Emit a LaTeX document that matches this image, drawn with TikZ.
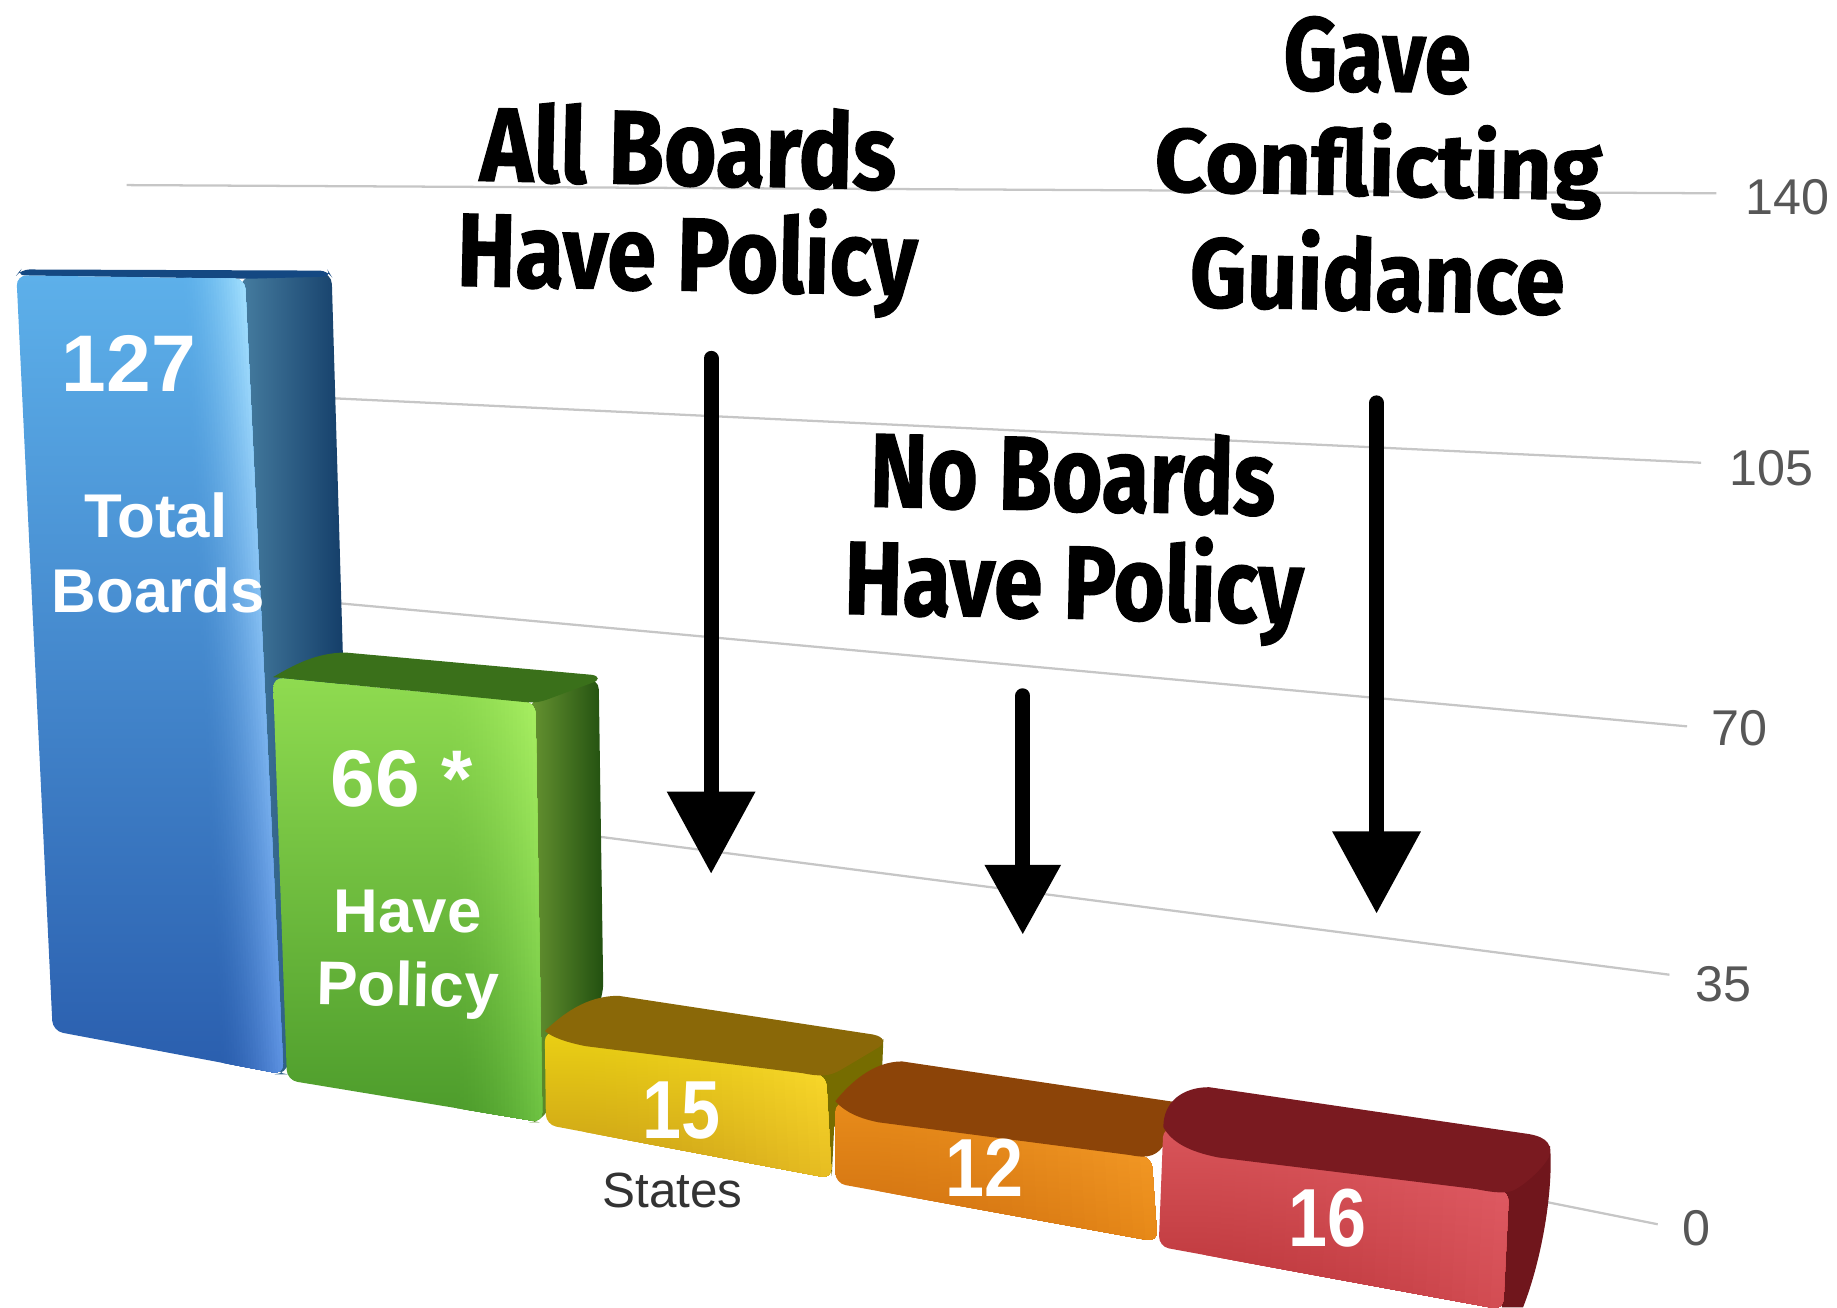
\documentclass[tikz,border=0pt]{standalone}
\usepackage{fontspec}
\usepackage{graphicx}
\setmainfont{Liberation Sans}
\newfontfamily\handf[BoldFeatures={FakeBold=1.2}]{Fira Sans}
\usetikzlibrary{calc,arrows.meta}
\newlength\ulen \setlength\ulen{0.01cm}
\definecolor{gridc}{HTML}{C6C6C6}
\definecolor{bsl}{RGB}{70,125,160}\definecolor{bsr}{RGB}{20,62,105}\definecolor{btop}{RGB}{20,72,130}
\definecolor{gtop}{RGB}{58,112,26}\definecolor{gsl}{RGB}{105,150,50}\definecolor{gsr}{RGB}{34,80,16}
\definecolor{yside}{RGB}{118,108,0}\definecolor{ytop}{RGB}{138,104,8}
\definecolor{otop}{RGB}{140,68,8}
\definecolor{rside}{RGB}{112,22,28}\definecolor{rtop}{RGB}{122,26,32}
\tikzset{
  gridline/.style={draw=gridc,line width=0.55pt},
  axislabel/.style={text=black!66,font=\fontsize{12.2}{14}\selectfont,inner sep=0},
  barnum/.style={text=white,font=\bfseries\fontsize{19.5}{22}\selectfont,inner sep=0},
  barlab/.style={text=white,font=\bfseries\fontsize{15}{18}\selectfont,inner sep=0},
  smallnum/.style={text=white,font=\bfseries\fontsize{20}{22}\selectfont,inner sep=0,xscale=.85,transform shape},
  handline/.style={anchor=base,inner sep=0,rotate=-1.2,text=black,font=\handf\bfseries\fontsize{28}{30}\selectfont},
  handarrow/.style={draw=black,line width=3.7pt,line cap=round,-{Triangle[length=20pt,width=20.5pt]}},
  handarrowsm/.style={draw=black,line width=3.7pt,line cap=round,-{Triangle[length=17pt,width=17.5pt]}},
}
% front face with a highlight growing smoothly towards its right edge
\newcommand\frontface[9]{%
  \begin{scope}
  \clip[rounded corners=2.5pt] (#1) -- (#2) -- (#3) -- (#4) -- cycle;
  \shade[top color=#5,bottom color=#6] (#1) -- (#2) -- (#3) -- (#4) -- cycle;
  \foreach \i in {1,...,24}{%
    \pgfmathsetmacro\t{#9+(1-#9)*\i/24}%
    \pgfmathsetmacro\m{100*pow(\i/24,1.6)}%
    \shade[top color=#7!\m!#5,bottom color=#8!\m!#6]
      (#1) -- (#1) (#2) -- (#2) (#3) -- (#3) (#4) -- (#4)
      ($(#1)!\t!(#2)$) -- (#2) -- (#3) -- ($(#4)!\t!(#3)$) -- cycle;
  }%
  \end{scope}%
}
\newcommand\handtext[6]{\node[handline] (#1) at (#2,#3) {\resizebox{#4\ulen}{#5\ulen}{#6}};}
\begin{document}
\begin{tikzpicture}[x=0.01cm,y=-0.01cm]
\useasboundingbox (0,0) rectangle (1568,1116);
% grid lines
\coordinate (g1a) at (108,158); \coordinate (g1b) at (1465,165);
\coordinate (g2a) at (285,340); \coordinate (g2b) at (1452,395);
\coordinate (g3a) at (290,515); \coordinate (g3b) at (1440,620);
\coordinate (g4a) at (510,714); \coordinate (g4b) at (1425,832);
\coordinate (g5a) at (1320,1026); \coordinate (g5b) at (1415,1045);
\foreach \n in {1,...,5}{\draw[gridline] (g\n a) -- (g\n b);}
% axis labels
\node[axislabel] (l140) at (1526,168) {140};
\node[axislabel] (l105) at (1512,400) {105};
\node[axislabel] (l70) at (1485,622) {70};
\node[axislabel] (l35) at (1471,840) {35};
\node[axislabel] (l0) at (1448,1048) {0};
% blue bar
\shade[left color=bsl,right color=bsr,rounded corners=3pt]
  (205,236) -- (283,232) -- (293,570) -- (245,917) -- (235,917) -- cycle;
\fill[btop,rounded corners=2pt] (14,235) -- (18,230) -- (280,231) -- (283,236) -- (210,238) -- cycle;
\coordinate (bA) at (14,235); \coordinate (bB) at (209,238); \coordinate (bC) at (242,917); \coordinate (bD) at (45,880);
\definecolor{bt}{HTML}{5DB0EA}\definecolor{bb}{HTML}{2A5EAE}\definecolor{bht}{HTML}{A5E2FF}\definecolor{bhb}{HTML}{5F94E4}
\frontface{bA}{bB}{bC}{bD}{bt}{bb}{bht}{bhb}{0.72}
% green bar
\definecolor{gt}{HTML}{8FDB50}\definecolor{gb}{HTML}{4C9B2B}\definecolor{ght}{HTML}{ACF264}\definecolor{ghb}{HTML}{6FC443}
\shade[left color=gsl,right color=gsr,rounded corners=3pt]
  (450,600) -- (511,578) -- (515,850) -- (462,958) -- (450,958) -- cycle;
\coordinate (gA) at (233,578); \coordinate (gB) at (457,600); \coordinate (gC) at (463,958); \coordinate (gD) at (245,922);
\frontface{gA}{gB}{gC}{gD}{gt}{gb}{ght}{ghb}{0.65}
\fill[gtop] (233,578) .. controls (250,568) and (270,557) .. (295,557) -- (505,576) .. controls (512,577) and (512,581) .. (505,583) -- (470,596) .. controls (460,600) and (455,600) .. (445,599) -- cycle;
% yellow bar
\definecolor{yt}{HTML}{EAD014}\definecolor{yb}{HTML}{C99C18}\definecolor{yht}{HTML}{FFE22E}\definecolor{yhb}{HTML}{E8BE22}
\fill[yside] (700,918) -- (754,887) -- (753,912) -- (712,962) -- (710,1004) -- cycle;
\coordinate (yA) at (465,880); \coordinate (yB) at (705,918); \coordinate (yC) at (710,1006); \coordinate (yD) at (466,960);
\frontface{yA}{yB}{yC}{yD}{yt}{yb}{yht}{yhb}{0.1}
\fill[ytop] (465,880) .. controls (480,866) and (500,850) .. (528,850) -- (745,883) .. controls (755,885) and (756,890) .. (750,894) -- (718,913) .. controls (708,919) and (700,919) .. (685,916) -- (500,893) .. controls (485,890) and (472,886) .. (465,880) -- cycle;
% orange bar
\definecolor{ot}{HTML}{E88C1A}\definecolor{ob}{HTML}{CE6E10}\definecolor{oht}{HTML}{F8A02C}\definecolor{ohb}{HTML}{E88A18}
\coordinate (oA) at (713,940); \coordinate (oB) at (983,988); \coordinate (oC) at (988,1060); \coordinate (oD) at (713,1010);
\frontface{oA}{oB}{oC}{oD}{ot}{ob}{oht}{ohb}{0.1}
\fill[otop] (713,940) .. controls (725,925) and (745,906) .. (770,906) -- (1012,942) -- (995,975) .. controls (988,987) and (980,989) .. (965,986) -- (750,958) .. controls (735,955) and (722,950) .. (713,940) -- cycle;
% red bar
\definecolor{rt}{HTML}{D9555A}\definecolor{rb}{HTML}{B93338}\definecolor{rht}{HTML}{E4606A}\definecolor{rhb}{HTML}{D44E54}
\fill[rside] (1280,1017) -- (1323,978) .. controls (1326,1010) and (1318,1070) .. (1300,1116) -- (1282,1116) -- cycle;
\coordinate (rA) at (993,962); \coordinate (rB) at (1288,1017); \coordinate (rC) at (1283,1118); \coordinate (rD) at (989,1064);
\frontface{rA}{rB}{rC}{rD}{rt}{rb}{rht}{rhb}{0.1}
\fill[rtop] (993,962) .. controls (993,940) and (1010,928) .. (1032,928) -- (1305,968) .. controls (1322,971) and (1325,978) .. (1322,988) .. controls (1315,1000) and (1300,1012) .. (1292,1016) .. controls (1285,1019) and (1275,1018) .. (1260,1015) -- (1040,988) .. controls (1015,983) and (1000,975) .. (993,962) -- cycle;
% bar labels
\node[barnum] (n127) at (110,310) {127};
\node[barlab] (tTotal) at (133,440) {Total};
\node[barlab] (tBoards) at (135,504) {Boards};
\node[barnum] (n66) at (343,665) {66 *};
\node[barlab] (tHave) at (348,778) {Have};
\node[barlab,rotate=-1] (tPolicy) at (348,845) {Policy};
\node[smallnum] (n15) at (582,948) {15};
\node[smallnum] (n12) at (840,997) {12};
\node[smallnum] (n16) at (1133,1040) {16};
\node[text=black!80,inner sep=0,font=\fontsize{12}{14}\selectfont] (tStates) at (574,1016) {States};
% hand lettering
\handtext{h1}{587}{158}{355}{68}{All Boards}
\handtext{h2}{586}{248}{393}{72}{Have Policy}
\handtext{h3}{1175}{78}{160}{63}{Gave}
\handtext{h4}{1176}{167}{382}{62}{Conflicting}
\handtext{h5}{1175}{265}{320}{68}{Guidance}
\handtext{h6}{915}{436}{346}{68}{No Boards}
\handtext{h7}{916}{528}{392}{72}{Have Policy}
% arrows
\coordinate (a1s) at (607,306); \coordinate (a1e) at (607,746);
\coordinate (a2s) at (873,594); \coordinate (a2e) at (873,798);
\coordinate (a3s) at (1175,344); \coordinate (a3e) at (1175,780);
\draw[handarrow] (a1s) -- (a1e);
\draw[handarrowsm] (a2s) -- (a2e);
\draw[handarrow] (a3s) -- (a3e);
\end{tikzpicture}
\end{document}
